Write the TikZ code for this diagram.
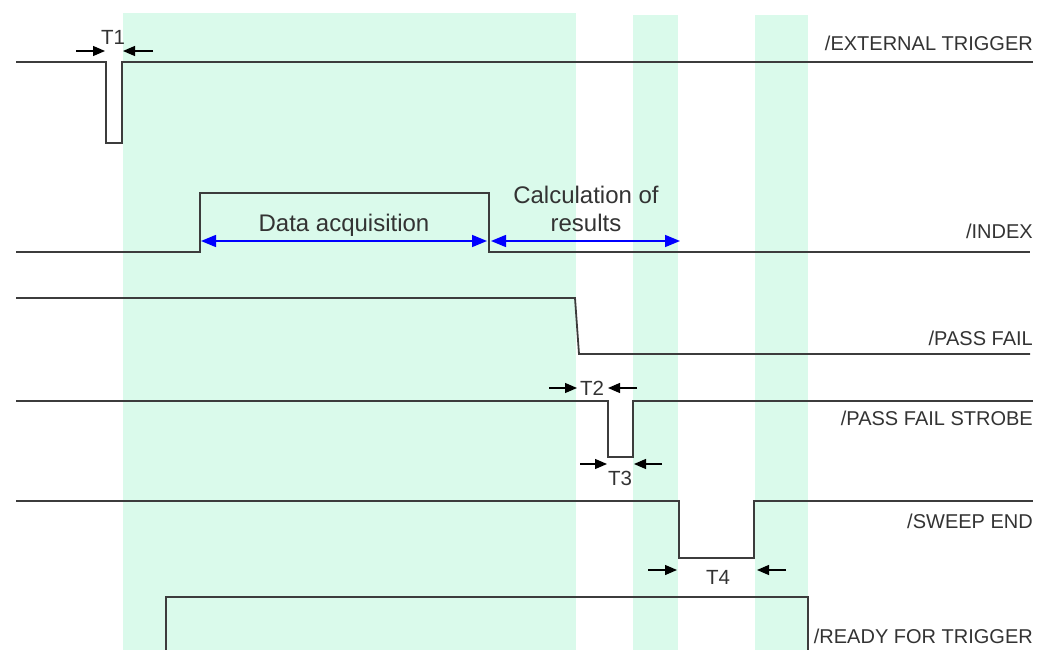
\documentclass[tikz,border=0pt]{standalone}
\usepackage{fontspec}
\setmainfont{Liberation Sans}
\usetikzlibrary{arrows.meta}
\definecolor{band}{HTML}{DAFAEB}
\definecolor{wave}{HTML}{3C3C3C}
\tikzset{
  sig/.style={draw=wave, line width=1.8pt, line join=miter},
  lbl/.style={anchor=base east, inner sep=0pt, font=\fontsize{20}{24}\selectfont, text=black!80},
  tlbl/.style={anchor=base, inner sep=0pt, font=\fontsize{20.5}{24}\selectfont, text=black!80},
  dlbl/.style={anchor=base, inner sep=0pt, font=\fontsize{24}{28}\selectfont, text=black!80},
  tarrow/.style={draw=black, line width=1.3pt, -{Triangle[length=12pt,width=10pt]}},
  barrow/.style={draw=blue, line width=1.5pt, {Triangle[length=15pt,width=12pt]}-{Triangle[length=15pt,width=12pt]}},
}
\begin{document}
\begin{tikzpicture}[x=1pt,y=-1pt]
\useasboundingbox (0,0) rectangle (1037,650);
% bands
\fill[band] (123,13) rectangle (576,650);
\fill[band] (633,15) rectangle (678,650);
\fill[band] (755,15) rectangle (808,650);
% EXTERNAL TRIGGER
\draw[sig] (16,62) -- (106,62) -- (106,143) -- (122,143) -- (122,62) -- (1033,62);
\node[lbl] (extl) at (1033,51) {/EXTERNAL TRIGGER};
\node[tlbl] (t1) at (113,45) {T1};
\coordinate (t1a) at (76,51); \coordinate (t1b) at (105,51);
\coordinate (t1c) at (153,51); \coordinate (t1d) at (123,51);
\draw[tarrow] (t1a) -- (t1b);
\draw[tarrow] (t1c) -- (t1d);
% INDEX
\draw[sig] (16,252) -- (200,252) -- (200,193) -- (489,193) -- (489,252) -- (1030,252);
\node[lbl] (idxl) at (1033,238) {/INDEX};
\coordinate (da1) at (201,241); \coordinate (da2) at (487,241);
\coordinate (ca1) at (491,241); \coordinate (ca2) at (680,241);
\draw[barrow] (da1) -- (da2);
\draw[barrow] (ca1) -- (ca2);
\node[dlbl] (dat) at (344,232) {Data acquisition};
\node[dlbl] (cal1) at (586,204) {Calculation of};
\node[dlbl] (cal2) at (586,232) {results};
% PASS FAIL
\draw[sig] (16,298) -- (575,298) -- (579,354) -- (1030,354);
\node[lbl] (pfl) at (1033,345) {/PASS FAIL};
% PASS FAIL STROBE
\draw[sig] (16,401) -- (608,401) -- (608,457) -- (633,457) -- (633,401) -- (1033,401);
\node[lbl] (pfsl) at (1033,425) {/PASS FAIL STROBE};
\node[tlbl] (t2) at (592,395) {T2};
\coordinate (t2a) at (549,388); \coordinate (t2b) at (577,388);
\coordinate (t2c) at (637,388); \coordinate (t2d) at (608,388);
\draw[tarrow] (t2a) -- (t2b);
\draw[tarrow] (t2c) -- (t2d);
\node[tlbl] (t3) at (620,485) {T3};
\coordinate (t3a) at (580,464); \coordinate (t3b) at (607,464);
\coordinate (t3c) at (662,464); \coordinate (t3d) at (634,464);
\draw[tarrow] (t3a) -- (t3b);
\draw[tarrow] (t3c) -- (t3d);
% SWEEP END
\draw[sig] (16,501) -- (679,501) -- (679,558) -- (754,558) -- (754,501) -- (1033,501);
\node[lbl] (sel) at (1033,528) {/SWEEP END};
\node[tlbl] (t4) at (718,584) {T4};
\coordinate (t4a) at (648,570); \coordinate (t4b) at (677,570);
\coordinate (t4c) at (786,570); \coordinate (t4d) at (757,570);
\draw[tarrow] (t4a) -- (t4b);
\draw[tarrow] (t4c) -- (t4d);
% READY FOR TRIGGER
\draw[sig] (166,651) -- (166,597) -- (808,597) -- (808,651);
\node[lbl] (rftl) at (1033,643) {/READY FOR TRIGGER};
\end{tikzpicture}
\end{document}
